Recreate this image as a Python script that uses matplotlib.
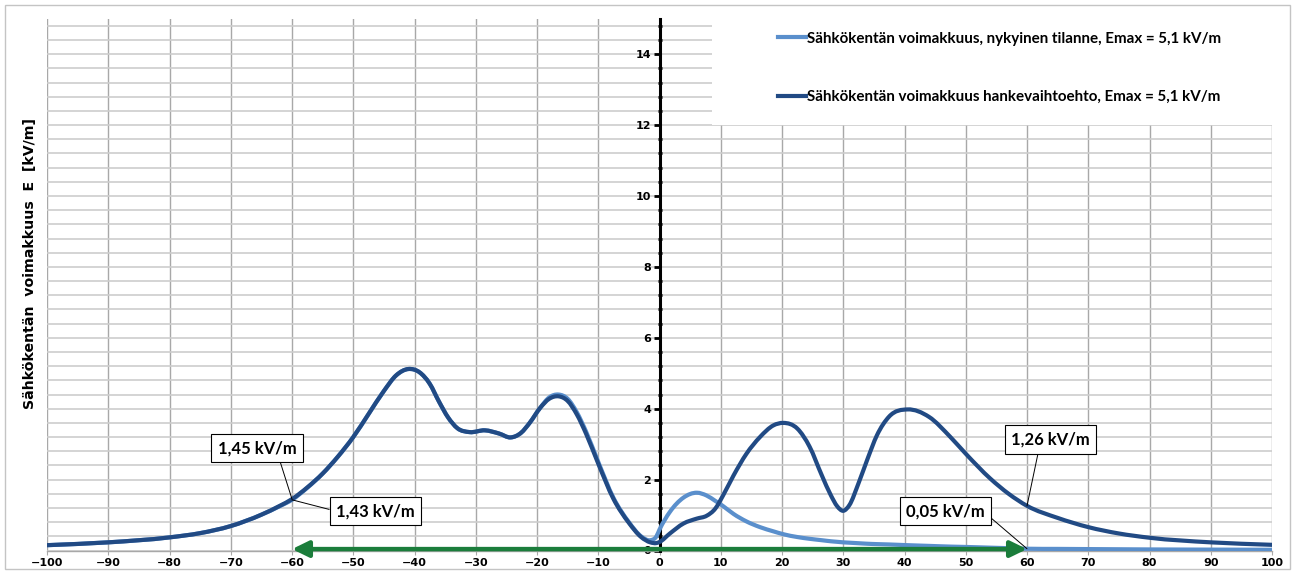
import matplotlib
matplotlib.use("Agg")
import matplotlib.pyplot as plt
from matplotlib.path import Path
from matplotlib.patches import PathPatch, Rectangle
from matplotlib.lines import Line2D
from matplotlib.ticker import MultipleLocator, FixedLocator

# Distance from the line centre [m]
dist_m = [-100, -90, -80, -75, -70, -65, -62, -60, -57.5, -55, -52.5, -50,
          -47.5, -45, -43, -41, -39.2, -37.5, -36, -34.5, -33, -31, -28.5,
          -26.2, -24.3, -22.6, -21.2, -19.5, -18, -16.5, -15, -13.5, -12, -10,
          -7.5, -5, -3, -1.5, -0.5, 0, 1.7, 3.9, 6.1, 7.7, 9.1, 10.4, 12.1,
          14.2, 16.4, 18.6, 20.2, 22.5, 24.5, 26.5, 28, 29, 30, 31, 32.5, 34,
          35.5, 37.5, 40.5, 44, 47.5, 50, 54, 57, 60, 65, 70, 75, 80, 90, 100]

# Electric field strength, present situation [kV/m]
e_nykyinen = [0.15, 0.23, 0.37, 0.49, 0.69, 1.01, 1.25, 1.43, 1.77, 2.17,
              2.65, 3.20, 3.85, 4.50, 4.94, 5.12, 5.03, 4.70, 4.20, 3.75,
              3.45, 3.34, 3.39, 3.30, 3.19, 3.32, 3.60, 4.02, 4.32, 4.40,
              4.28, 3.90, 3.36, 2.50, 1.48, 0.80, 0.40, 0.29, 0.40, 0.59,
              1.09, 1.49, 1.63, 1.55, 1.40, 1.25, 1.03, 0.82, 0.66, 0.54,
              0.46, 0.38, 0.33, 0.29, 0.26, 0.245, 0.23, 0.22, 0.205, 0.19,
              0.18, 0.17, 0.15, 0.13, 0.11, 0.10, 0.08, 0.065, 0.05, 0.045,
              0.04, 0.035, 0.03, 0.025, 0.02]

# Electric field strength, project alternative [kV/m]
e_hanke = [0.15, 0.23, 0.37, 0.49, 0.69, 1.01, 1.26, 1.45, 1.78, 2.17,
           2.65, 3.20, 3.85, 4.50, 4.94, 5.12, 5.03, 4.70, 4.20, 3.75,
           3.45, 3.34, 3.39, 3.30, 3.19, 3.32, 3.60, 4.02, 4.28, 4.35,
           4.22, 3.84, 3.30, 2.45, 1.45, 0.78, 0.38, 0.23, 0.21, 0.24,
           0.48, 0.76, 0.90, 0.98, 1.18, 1.56, 2.12, 2.73, 3.20, 3.53,
           3.60, 3.44, 2.93, 2.12, 1.55, 1.25, 1.12, 1.28, 1.90, 2.60,
           3.25, 3.78, 3.98, 3.77, 3.20, 2.73, 2.03, 1.60, 1.26, 0.92,
           0.66, 0.48, 0.36, 0.23, 0.16]

labels = ["Sähkökentän voimakkuus, nykyinen tilanne, Emax = 5,1 kV/m",
          "Sähkökentän voimakkuus hankevaihtoehto, Emax = 5,1 kV/m"]
colors = ["#5a8fcc", "#214a84"]

x_ticks = list(range(-100, 101, 10))
y_ticks = list(range(0, 15, 2))

# Callouts: (text, point x, point y, text x, text y, leader start rel. pos.)
callouts = [
    ("1,45 kV/m", -60, 1.45, -65.7, 2.89, (0.77, 0.0)),
    ("1,43 kV/m", -60, 1.43, -46.4, 1.11, (0.0, 0.5)),
    ("1,26 kV/m", 60, 1.26, 63.8, 3.13, (0.36, 0.0)),
    ("0,05 kV/m", 60, 0.05, 46.7, 1.11, (1.0, 0.4)),
]
span_start, span_end, span_level = -60, 60, 0.04


def smooth_path(xs, ys):
    """Piecewise cubic (Hermite) path through the data points,
    with slopes weighted for uneven point spacing."""
    n = len(xs)
    h = [xs[i + 1] - xs[i] for i in range(n - 1)]
    d = [(ys[i + 1] - ys[i]) / h[i] for i in range(n - 1)]
    slopes = [d[0]]
    for i in range(1, n - 1):
        slopes.append((h[i - 1] * d[i] + h[i] * d[i - 1]) / (h[i - 1] + h[i]))
    slopes.append(d[-1])
    verts = [(xs[0], ys[0])]
    codes = [Path.MOVETO]
    for i in range(n - 1):
        c1 = (xs[i] + h[i] / 3, ys[i] + slopes[i] * h[i] / 3)
        c2 = (xs[i + 1] - h[i] / 3, ys[i + 1] - slopes[i + 1] * h[i] / 3)
        verts += [c1, c2, (xs[i + 1], ys[i + 1])]
        codes += [Path.CURVE4] * 3
    return Path(verts, codes)


W, H = 1300, 572
fig = plt.figure(figsize=(W / 100, H / 100), dpi=100)
fig.patch.set_facecolor("white")
fig.patches.append(Rectangle((5 / W, 3 / H), 1285 / W, 564 / H,
                             transform=fig.transFigure, fill=False,
                             edgecolor="#c4c4c4", lw=1.0))

ax = fig.add_axes([47 / W, 1 - 550.5 / H, 1225 / W, (550.5 - 18.8) / H])
ax.set_xlim(-100, 100)
ax.set_ylim(0, 15)
ax.set_axisbelow(True)

# grid
ax.xaxis.set_major_locator(FixedLocator(x_ticks))
ax.yaxis.set_major_locator(FixedLocator(y_ticks))
ax.yaxis.set_minor_locator(MultipleLocator(0.4))
ax.grid(axis="x", which="major", color="#a8a8a8", lw=1.0)
ax.grid(axis="y", which="both", color="#cdcdcd", lw=1.2)

for s in ("top", "right"):
    ax.spines[s].set_visible(False)
ax.spines["bottom"].set_color("#a8a8a8")
ax.spines["bottom"].set_linewidth(1.0)
ax.spines["left"].set_position(("data", 0))
ax.spines["left"].set_color("black")
ax.spines["left"].set_linewidth(2.2)
ax.spines["left"].set_zorder(3)

ax.tick_params(axis="x", which="major", length=3, color="#a8a8a8",
               labelsize=8, pad=2.5)
ax.tick_params(axis="y", which="major", length=4, width=2, color="black",
               labelsize=8, pad=2)
ax.tick_params(axis="y", which="minor", length=3, width=2, direction="inout",
               color="black")
for lab in ax.get_xticklabels() + ax.get_yticklabels():
    lab.set_fontweight("bold")
    lab.set_fontfamily("DejaVu Sans")

# white area behind the legend
ax.add_patch(Rectangle((712 / W, 1 - 125 / H), 560 / W, 107 / H,
                       transform=fig.transFigure, facecolor="white",
                       edgecolor="none", zorder=1))

# curves
for ys, c in zip([e_nykyinen, e_hanke], colors):
    ax.add_patch(PathPatch(smooth_path(dist_m, ys), fill=False, edgecolor=c,
                           lw=3.0, capstyle="round", joinstyle="round",
                           zorder=4))

# span arrow
ax.annotate("", xy=(span_start, span_level), xytext=(span_end, span_level),
            arrowprops=dict(arrowstyle="<|-|>,head_length=0.45,head_width=0.22",
                            mutation_scale=22, color="#1b7d3b", lw=3.2,
                            shrinkA=0, shrinkB=0),
            zorder=6, annotation_clip=False)

# value callouts
for txt, px, py, tx, ty, rp in callouts:
    ax.annotate(txt, xy=(px, py), xytext=(tx, ty), ha="center", va="center",
                fontsize=12, fontweight="bold", family="Lato",
                bbox=dict(boxstyle="square,pad=0.38", fc="white", ec="black",
                          lw=0.8),
                arrowprops=dict(arrowstyle="-", color="black", lw=0.7,
                                relpos=rp, shrinkA=0, shrinkB=0),
                zorder=7)

# legend
handles = [Line2D([], [], color=c, lw=3.0) for c in colors]
leg = fig.legend(handles, labels, loc="upper left",
                 bbox_to_anchor=(770 / W, 1 - 24 / H), frameon=False,
                 borderpad=0, handlelength=1.9, handletextpad=0.05,
                 labelspacing=2.95,
                 prop=dict(family="Lato", weight="bold", size=10.9))

fig.text(30 / W, 1 - 263.5 / H, "Sähkökentän  voimakkuus  E  [kV/m]",
         rotation=90, ha="center", va="center", fontsize=10.2,
         fontweight="bold", family="DejaVu Sans")

fig.savefig("out.png", dpi=100, facecolor="white")
